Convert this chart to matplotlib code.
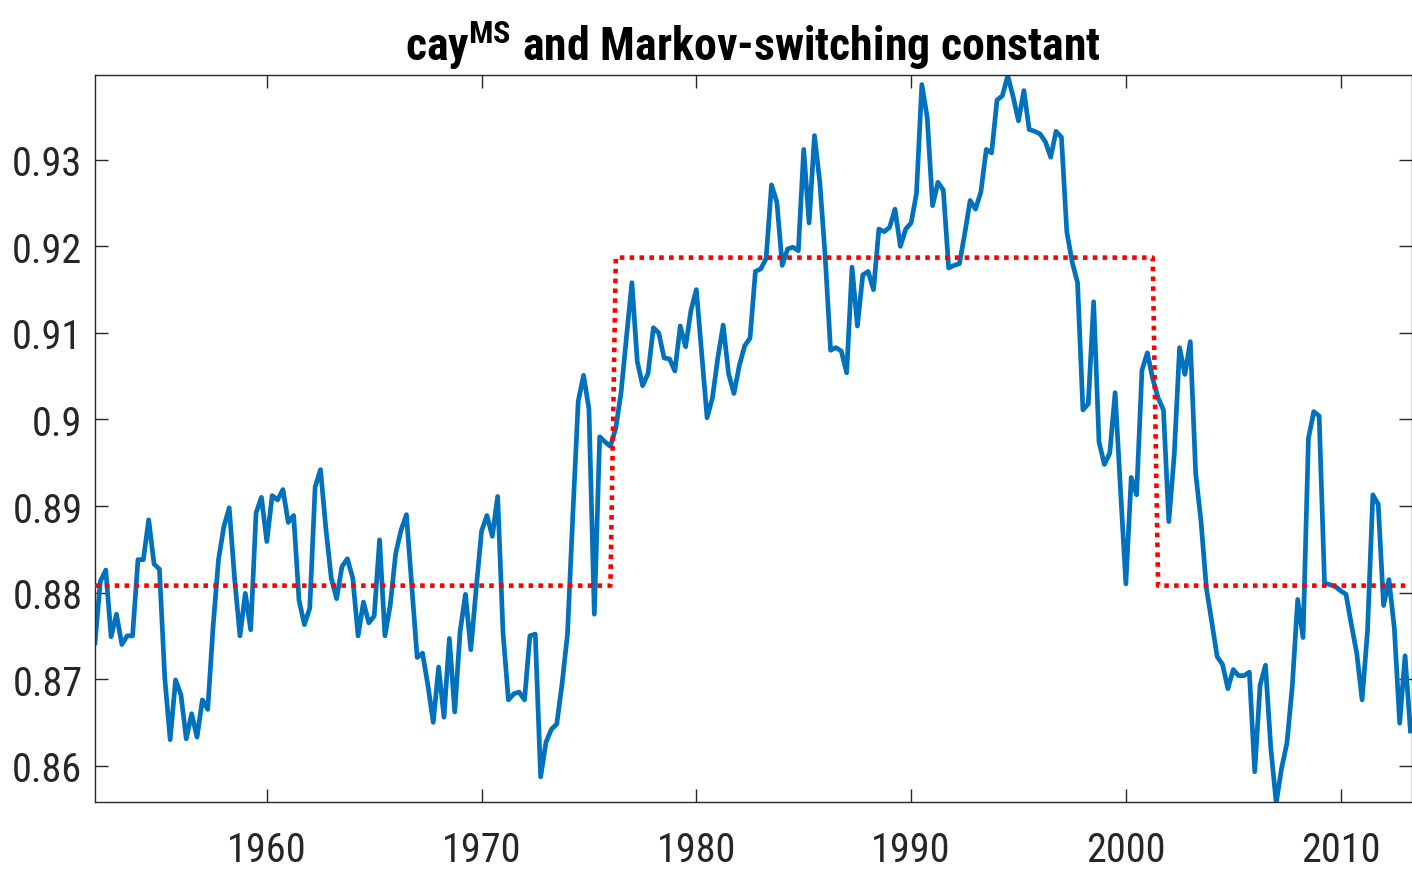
"""
cay^MS with the Markov-switching constant, quarterly 1952Q1 - 2013Q2.
"""

import numpy as np
import matplotlib
matplotlib.use('Agg')
import matplotlib.pyplot as plt
from matplotlib import font_manager

# quarterly values, one row per year
cay_1950s = [0.8742, 0.8813, 0.8826, 0.8749,
             0.8775, 0.8740, 0.8750, 0.8750,
             0.8838, 0.8838, 0.8884, 0.8833,
             0.8827, 0.8701, 0.8630, 0.8699,
             0.8682, 0.8631, 0.8660, 0.8633,
             0.8676, 0.8665, 0.8761, 0.8838,
             0.8876, 0.8898, 0.8816, 0.8750,
             0.8799, 0.8757, 0.8892, 0.8910]
cay_1960s = [0.8859, 0.8912, 0.8907, 0.8919,
             0.8881, 0.8889, 0.8791, 0.8763,
             0.8782, 0.8922, 0.8942, 0.8874,
             0.8817, 0.8793, 0.8830, 0.8839,
             0.8817, 0.8750, 0.8789, 0.8765,
             0.8773, 0.8861, 0.8750, 0.8786,
             0.8845, 0.8872, 0.8890, 0.8807,
             0.8725, 0.8730, 0.8693, 0.8650,
             0.8714, 0.8656, 0.8747, 0.8662,
             0.8755, 0.8798, 0.8734, 0.8805]
cay_1970s = [0.8871, 0.8889, 0.8865, 0.8911,
             0.8753, 0.8676, 0.8683, 0.8685,
             0.8676, 0.8750, 0.8752, 0.8587,
             0.8627, 0.8642, 0.8648, 0.8695,
             0.8752, 0.8890, 0.9021, 0.9051,
             0.9012, 0.8775, 0.8980, 0.8974,
             0.8969, 0.8990, 0.9032, 0.9096,
             0.9158, 0.9067, 0.9039, 0.9053,
             0.9106, 0.9100, 0.9071, 0.9070,
             0.9056, 0.9108, 0.9084, 0.9126]
cay_1980s = [0.9150, 0.9076, 0.9002, 0.9025,
             0.9071, 0.9109, 0.9053, 0.9030,
             0.9062, 0.9085, 0.9094, 0.9171,
             0.9174, 0.9186, 0.9271, 0.9251,
             0.9178, 0.9197, 0.9199, 0.9195,
             0.9312, 0.9227, 0.9328, 0.9274,
             0.9188, 0.9080, 0.9083, 0.9079,
             0.9054, 0.9176, 0.9108, 0.9167,
             0.9171, 0.9150, 0.9220, 0.9217,
             0.9222, 0.9243, 0.9200, 0.9220]
cay_1990s = [0.9227, 0.9261, 0.9387, 0.9349,
             0.9247, 0.9274, 0.9265, 0.9175,
             0.9178, 0.9180, 0.9215, 0.9253,
             0.9243, 0.9263, 0.9312, 0.9308,
             0.9369, 0.9374, 0.9397, 0.9373,
             0.9345, 0.9380, 0.9335, 0.9333,
             0.9330, 0.9321, 0.9303, 0.9333,
             0.9326, 0.9217, 0.9182, 0.9158,
             0.9011, 0.9018, 0.9136, 0.8974,
             0.8948, 0.8961, 0.9031, 0.8919]
cay_2000s = [0.8810, 0.8933, 0.8913, 0.9057,
             0.9077, 0.9047, 0.9025, 0.9011,
             0.8882, 0.8958, 0.9083, 0.9052,
             0.9090, 0.8938, 0.8882, 0.8805,
             0.8766, 0.8726, 0.8717, 0.8689,
             0.8711, 0.8704, 0.8704, 0.8708,
             0.8593, 0.8693, 0.8716, 0.8620,
             0.8557, 0.8597, 0.8626, 0.8692,
             0.8792, 0.8748, 0.8978, 0.9009,
             0.9004, 0.8811, 0.8809, 0.8807]
cay_2010s = [0.8802, 0.8798, 0.8763, 0.8730,
             0.8676, 0.8755, 0.8913, 0.8902,
             0.8785, 0.8815, 0.8759, 0.8649,
             0.8727, 0.8640]

start_year = 1952.0

# Markov-switching constant: two levels, high regime 1976Q2 - 2001Q2
ms_low = 0.8808
ms_high = 0.9187
high_start = 1976.25
high_end = 2001.25

x_ticks = [1960, 1970, 1980, 1990, 2000, 2010]
y_ticks = [0.86, 0.87, 0.88, 0.89, 0.90, 0.91, 0.92, 0.93]
y_ticklabels = ['0.86', '0.87', '0.88', '0.89', '0.9', '0.91', '0.92', '0.93']

# ---------------------------------------------------------------
cay = np.array(cay_1950s + cay_1960s + cay_1970s + cay_1980s + cay_1990s
               + cay_2000s + cay_2010s)
dates = start_year + 0.25 * np.arange(len(cay))
in_high = (dates >= high_start - 1e-9) & (dates <= high_end + 1e-9)
ms_const = np.where(in_high, ms_high, ms_low)

# a condensed Helvetica-like face if there is one, else plain Liberation Sans
names = {f.name for f in font_manager.fontManager.ttflist}
wanted = ['Liberation Sans Narrow', 'Roboto Condensed', 'Open Sans Condensed',
          'Liberation Sans', 'DejaVu Sans']
family = [f for f in wanted if f in names]
narrow = family[0] in ('Liberation Sans Narrow', 'Roboto Condensed', 'Open Sans Condensed')
plt.rcParams['font.family'] = family
plt.rcParams['mathtext.fontset'] = 'custom'
plt.rcParams['mathtext.bf'] = family[0] + ':bold'
plt.rcParams['mathtext.rm'] = family[0] + ':bold'

axis_grey = '#262626'
tick_size = 29 if narrow else 27
title_size = 33 if narrow else 29

fig = plt.figure(figsize=(14.12, 8.70), dpi=100)
ax = fig.add_axes([95 / 1412, 1 - 803 / 870, 1316.5 / 1412, (803 - 76) / 870])

ax.plot(dates, cay, color='#0072BD', linewidth=3.4, solid_joinstyle='round', zorder=2)
ax.plot(dates, ms_const, color=(1, 0, 0), linewidth=3.3,
        linestyle=(0, (1, 1.15)), dash_capstyle='butt', zorder=3)

ax.set_xlim(start_year, 2013.3)
ax.set_ylim(0.8558, 0.9398)
ax.set_xticks(x_ticks)
ax.set_xticklabels([str(t) for t in x_ticks])
ax.set_yticks(y_ticks)
ax.set_yticklabels(y_ticklabels)

ax.tick_params(direction='in', length=9.5, width=1.0, color=axis_grey,
               labelcolor=axis_grey, labelsize=tick_size, top=True, right=True)
ax.tick_params(axis='x', pad=20)
ax.tick_params(axis='y', pad=9)
for s in ax.spines.values():
    s.set_color(axis_grey)
    s.set_linewidth(1.0)

ax.set_title(r'cay$^{\mathrm{MS}}$ and Markov-switching constant',
             fontsize=title_size, fontweight='bold', color='black', pad=11)

fig.savefig('out.png', dpi=100)
